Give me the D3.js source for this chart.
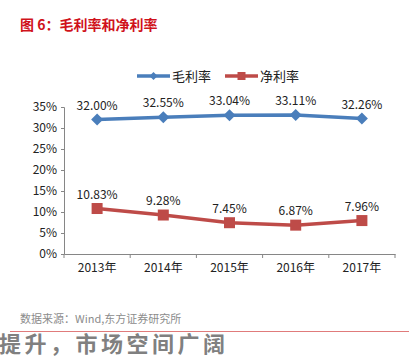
<!DOCTYPE html>
<html><head><meta charset="utf-8">
<script src="https://cdn.jsdelivr.net/npm/d3@7"></script>
<style>body{margin:0;background:#fff}svg{display:block}</style>
</head><body><svg id="c" width="409" height="358"></svg>
<script>
const categories = ["2013年","2014年","2015年","2016年","2017年"];
const grossMargin = [32.00, 32.55, 33.04, 33.11, 32.26];
const netMargin = [10.83, 9.28, 7.45, 6.87, 7.96];
const yTicks = [0,5,10,15,20,25,30,35];
const seriesNames = ["毛利率","净利率"];

const svg = d3.select("#c");
const font = "'Noto Sans CJK SC','Noto Sans',sans-serif";
const blue = "#4a7ebb", red = "#be4b48";

svg.append("text").attr("x",20).attr("y",30).attr("fill","#d0121b")
  .attr("font-family",font).attr("font-weight","bold").attr("font-size",14).text("图 6：毛利率和净利率");

const x = d3.scaleBand().domain(categories).range([64,395]);
const y = d3.scaleLinear().domain([0,35]).range([254,107]);

const yAxis = d3.axisLeft(y).tickValues(yTicks).tickFormat(d=>d+"%").tickSize(3).tickPadding(4);
const gy = svg.append("g").attr("transform","translate(64,0)").call(yAxis);
const xAxis = d3.axisBottom(x).tickSize(0).tickPadding(9);
const gx = svg.append("g").attr("transform","translate(0,254)").call(xAxis);
[gy,gx].forEach(g=>{g.select(".domain").attr("stroke","#868686");g.selectAll("line").attr("stroke","#868686");
  g.selectAll("text").attr("font-family",font).attr("font-size",12).attr("fill","#222");});
const bounds = categories.map(c=>x(c)).concat([x.range()[1]]);
svg.append("g").selectAll("line").data(bounds).join("line")
  .attr("x1",d=>d).attr("x2",d=>d).attr("y1",254).attr("y2",258).attr("stroke","#868686");

const line = d3.line().x((d,i)=>x(categories[i])+x.bandwidth()/2).y(d=>y(d));
function drawSeries(data,color,marker){
  svg.append("path").datum(data).attr("d",line).attr("fill","none").attr("stroke",color).attr("stroke-width",3.5);
  const g = svg.append("g");
  data.forEach((v,i)=>{
    const cx = x(categories[i])+x.bandwidth()/2, cy = y(v);
    if(marker==="diamond"){
      g.append("path").attr("d",`M${cx},${cy-6}L${cx+6},${cy}L${cx},${cy+6}L${cx-6},${cy}Z`).attr("fill",color);
    } else {
      g.append("rect").attr("x",cx-5.5).attr("y",cy-5.5).attr("width",11).attr("height",11).attr("fill",color);
    }
    svg.append("text").attr("x",cx).attr("y",cy-10).attr("text-anchor","middle")
      .attr("font-family",font).attr("font-size",12).attr("fill","#222").text(v.toFixed(2)+"%");
  });
}
drawSeries(grossMargin,blue,"diamond");
drawSeries(netMargin,red,"square");

const lg = svg.append("g");
[[137,blue,"diamond"],[225,red,"square"]].forEach(([lx,color,m],i)=>{
  lg.append("line").attr("x1",lx).attr("x2",lx+33).attr("y1",76).attr("y2",76).attr("stroke",color).attr("stroke-width",3.5);
  const cx = lx+16.5;
  if(m==="diamond") lg.append("path").attr("d",`M${cx},72L${cx+4},76L${cx},80L${cx-4},76Z`).attr("fill",color);
  else lg.append("rect").attr("x",cx-4).attr("y",72).attr("width",8).attr("height",8).attr("fill",color);
  lg.append("text").attr("x",lx+35).attr("y",80.5).attr("font-family",font).attr("font-size",13).attr("fill","#222").text(seriesNames[i]);
});

svg.append("text").attr("x",20).attr("y",323).attr("fill","#8c8c8c")
  .attr("font-family",font).attr("font-size",11).text("数据来源：Wind,东方证券研究所");
svg.append("line").attr("x1",10).attr("x2",409).attr("y1",331.5).attr("y2",331.5).attr("stroke","#e07b7b").attr("stroke-width",1);
svg.append("text").attr("x",-1).attr("y",352).attr("fill","#808080").attr("letter-spacing",3.5)
  .attr("font-family",font).attr("font-weight","bold").attr("font-size",22).text("提升，市场空间广阔");
</script></body></html>
